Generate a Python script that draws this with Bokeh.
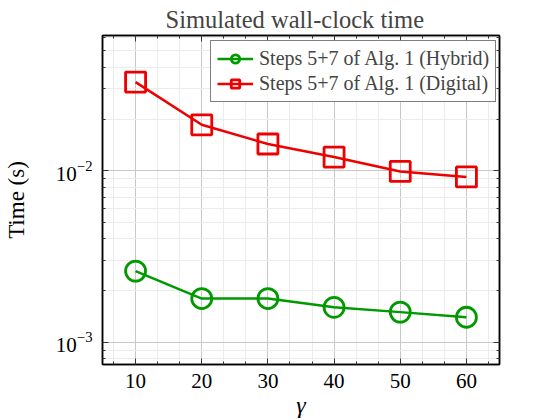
from bokeh.plotting import figure
from bokeh.models import (Range1d, FixedTicker, LinearAxis, LogAxis, Legend, LegendItem,
                          LogTickFormatter)
from bokeh.embed import file_html
from bokeh.resources import INLINE

gamma = [10, 20, 30, 40, 50, 60]
hybrid = [0.0026, 0.0018, 0.0018, 0.0016, 0.0015, 0.0014]
digital = [0.0328, 0.0185, 0.0143, 0.0120, 0.0099, 0.0092]
x_ticks = [10, 20, 30, 40, 50, 60]
x_minor = [6.667, 13.333, 16.667, 23.333, 26.667, 33.333, 36.667, 43.333, 46.667,
           53.333, 56.667, 63.333]
y_ticks = [0.001, 0.01]
y_minor = [0.0008, 0.0009, 0.002, 0.003, 0.004, 0.005, 0.006, 0.007, 0.008, 0.009,
           0.02, 0.03, 0.04, 0.05, 0.06]

FONT = "Liberation Serif"
GREEN = "#009900"
RED = "#ee0000"

p = figure(width=537, height=420, output_backend="svg", toolbar_location=None,
           y_axis_type="log", x_range=Range1d(5, 65), y_range=Range1d(7.43e-4, 0.0613),
           min_border_left=100, min_border_right=38, min_border_bottom=56, min_border_top=33)

p.title.text = "Simulated wall-clock time"
p.title.align = "left"
p.title.offset = 63
p.title.text_font = FONT
p.title.text_font_size = "24.5px"
p.title.text_font_style = "normal"
p.title.standoff = 6

p.outline_line_color = "black"
p.outline_line_width = 1.5
p.background_fill_color = "white"
p.border_fill_color = "white"

xt = FixedTicker(ticks=x_ticks, minor_ticks=x_minor)
yt = FixedTicker(ticks=y_ticks, minor_ticks=y_minor)
p.xaxis.ticker = xt
p.yaxis.ticker = yt
p.yaxis.formatter = LogTickFormatter()
p.xgrid.ticker = xt
p.ygrid.ticker = yt

for ax in [p.xaxis[0], p.yaxis[0]]:
    ax.major_tick_in = 6
    ax.major_tick_out = 0
    ax.minor_tick_in = 3
    ax.minor_tick_out = 0
    ax.axis_line_color = "black"
    ax.axis_line_width = 1.5
    ax.major_label_text_font = FONT
    ax.major_label_text_font_size = "21px"
    ax.major_label_text_color = "black"
    ax.axis_label_text_font = FONT
    ax.axis_label_text_font_size = "23px"
    ax.axis_label_text_font_style = "normal"
    ax.axis_label_text_color = "black"
    ax.major_tick_line_color = "#333333"
    ax.minor_tick_line_color = "#333333"

p.xaxis.axis_label = "γ"
p.xaxis.axis_label_text_font_style = "italic"
p.xaxis.axis_label_text_font_size = "24px"
p.xaxis.axis_label_standoff = 1
p.xaxis.major_label_standoff = 9
p.yaxis.axis_label = "Time (s)"
p.yaxis.major_label_standoff = 10
p.yaxis.axis_label_standoff = 24

top = LinearAxis(ticker=xt, major_label_text_color=None, major_tick_in=6, major_tick_out=0,
                 minor_tick_in=3, minor_tick_out=0, axis_line_color="black", axis_line_width=1.5,
                 major_label_text_font_size="0px", major_label_standoff=0,
                 major_tick_line_color="#333333", minor_tick_line_color="#333333")
right = LogAxis(ticker=yt, major_label_text_color=None, major_tick_in=6, major_tick_out=0,
                minor_tick_in=3, minor_tick_out=0, axis_line_color="black", axis_line_width=1.5,
                major_label_text_font_size="0px", major_label_standoff=0,
                major_tick_line_color="#333333", minor_tick_line_color="#333333")
p.add_layout(top, "above")
p.add_layout(right, "right")

p.xgrid.grid_line_color = "#c8c8c8"
p.ygrid.grid_line_color = "#c8c8c8"
p.xgrid.minor_grid_line_color = "#ececec"
p.ygrid.minor_grid_line_color = "#ececec"

l1 = p.line(gamma, hybrid, line_color=GREEN, line_width=2.5)
m1 = p.scatter(gamma, hybrid, marker="circle", size=20, line_color=GREEN, line_width=2.8,
               fill_alpha=0)
l2 = p.line(gamma, digital, line_color=RED, line_width=2.5)
m2 = p.scatter(gamma, digital, marker="square", size=20, line_color=RED, line_width=2.8,
               fill_alpha=0)

legend = Legend(items=[LegendItem(label="Steps 5+7 of Alg. 1 (Hybrid)", renderers=[l1, m1]),
                       LegendItem(label="Steps 5+7 of Alg. 1 (Digital)", renderers=[l2, m2])],
                location=(108, 262))
legend.label_text_font = FONT
legend.label_text_font_size = "20px"
legend.border_line_color = "black"
legend.border_line_width = 1.5
legend.glyph_width = 36
legend.glyph_height = 21
legend.label_standoff = 6
legend.padding = 6
legend.spacing = 2
legend.margin = 0
legend.label_height = 21
p.add_layout(legend, "center")

open("out.html", "w").write(file_html(p, INLINE))
